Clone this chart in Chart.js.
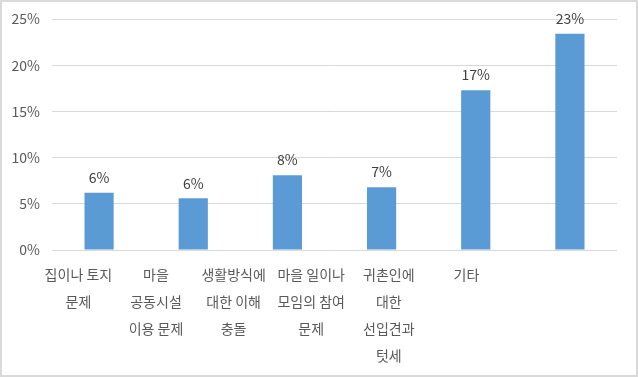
<!DOCTYPE html>
<html>
<head>
<meta charset="utf-8">
<script src="https://cdn.jsdelivr.net/npm/chart.js@4/dist/chart.umd.min.js"></script>
<style>
  html, body { margin: 0; padding: 0; background: #fff; }
  .wrap { width: 638px; height: 377px; box-sizing: border-box; border: 2px solid #d9d9d9; background: #fff; }
  .wrap canvas { display: block; }
</style>
</head>
<body>
<div class="wrap"><canvas id="c" width="634" height="373"></canvas></div>
<script>
// 카테고리 (여러 줄)
const categories = [
  ['집이나 토지', '문제'],
  ['마을', '공동시설', '이용 문제'],
  ['생활방식에', '대한 이해', '충돌'],
  ['마을 일이나', '모임의 참여', '문제'],
  ['귀촌인에', '대한', '선입견과', '텃세'],
  ['기타']
];
const values = [6.2, 5.6, 8.1, 6.8, 17.3, 23.4];
const valueLabels = ['6%', '6%', '8%', '7%', '17%', '23%'];
const yTicks = [0, 5, 10, 15, 20, 25];

const fontFamily = '"Noto Sans CJK KR", "Noto Sans", sans-serif';

// 막대 위 값 표시
const valueLabelPlugin = {
  id: 'valueLabels',
  afterDatasetsDraw(chart) {
    const ctx = chart.ctx;
    const meta = chart.getDatasetMeta(0);
    ctx.save();
    ctx.font = '14px ' + fontFamily;
    ctx.fillStyle = '#404040';
    ctx.textAlign = 'center';
    ctx.textBaseline = 'bottom';
    meta.data.forEach((bar, i) => {
      ctx.fillText(valueLabels[i], bar.x, bar.y - 8);
    });
    ctx.restore();
  }
};

new Chart(document.getElementById('c'), {
  type: 'bar',
  data: {
    labels: categories.map(c => c.join(' ')),
    datasets: [{
      data: values,
      backgroundColor: '#5b9bd5',
      borderWidth: 0,
      categoryPercentage: 0.62,
      barPercentage: 0.5
    }]
  },
  options: {
    responsive: false,
    animation: false,
    layout: { padding: { top: 17, right: 19, left: 0, bottom: 0 } },
    plugins: { legend: { display: false }, tooltip: { enabled: false } },
    scales: {
      x: { display: false },
      // 라벨 전용 축
      xl: {
        type: 'linear',
        position: 'bottom',
        offset: false,
        min: -0.34,
        max: 6.94,
        afterBuildTicks: s => { s.ticks = categories.map((c, i) => ({ value: i })); },
        afterFit: s => { s.height = 125; },
        grid: { display: false, offset: false },
        border: { display: false },
        ticks: {
          autoSkip: false,
          maxRotation: 0,
          padding: 3,
          color: '#595959',
          font: { family: fontFamily, size: 14, lineHeight: 27 / 14 },
          callback: (v, i) => categories[i]
        }
      },
      y: {
        min: 0,
        max: 25,
        afterBuildTicks: s => { s.ticks = yTicks.map(v => ({ value: v })); },
        afterFit: s => { s.width = 50; },
        grid: { color: '#d9d9d9', drawTicks: true, tickLength: 8, tickColor: 'rgba(0,0,0,0)' },
        border: { display: false },
        ticks: {
          padding: 4,
          color: '#595959',
          font: { family: fontFamily, size: 14 },
          callback: v => v + '%'
        }
      }
    }
  },
  plugins: [valueLabelPlugin]
});
</script>
</body>
</html>
